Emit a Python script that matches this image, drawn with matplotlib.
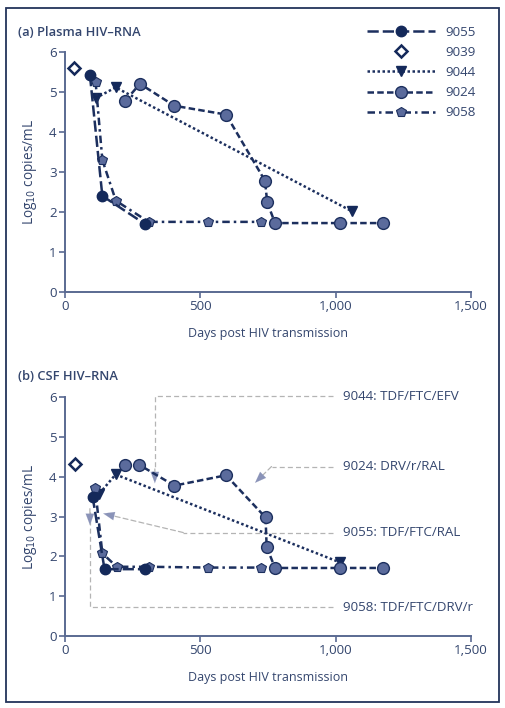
import matplotlib
matplotlib.use("Agg")
import matplotlib.pyplot as plt
from matplotlib.patches import Rectangle
from matplotlib.lines import Line2D

plt.rcParams['font.family'] = ['Open Sans', 'DejaVu Sans']

# ---------------- data ----------------
# Panel (a) Plasma HIV-RNA
a_9055_x = [92, 138, 295]
a_9055_y = [5.43, 2.40, 1.70]
a_9039_x = [33]
a_9039_y = [5.60]
a_9044_x = [113, 187, 1059]
a_9044_y = [4.85, 5.12, 2.02]
a_9024_x = [222, 277, 404, 595, 739, 747, 776, 1016, 1174]
a_9024_y = [4.78, 5.21, 4.66, 4.44, 2.78, 2.24, 1.72, 1.72, 1.72]
a_9058_x = [113, 138, 188, 309, 527, 724]
a_9058_y = [5.26, 3.30, 2.28, 1.75, 1.75, 1.75]

# Panel (b) CSF HIV-RNA
b_9055_x = [102, 146, 296]
b_9055_y = [3.50, 1.68, 1.68]
b_9039_x = [36]
b_9039_y = [4.32]
b_9044_x = [127, 187, 1016]
b_9044_y = [3.58, 4.06, 1.85]
b_9024_x = [222, 275, 404, 595, 741, 745, 776, 1016, 1174]
b_9024_y = [4.30, 4.30, 3.78, 4.04, 2.98, 2.24, 1.71, 1.71, 1.71]
b_9058_x = [111, 138, 191, 310, 527, 724]
b_9058_y = [3.73, 2.08, 1.74, 1.74, 1.72, 1.72]

# Annotations in panel (b): label, label y, elbow path (x list, y list), arrow tip
ann_labels = ["9044: TDF/FTC/EFV", "9024: DRV/r/RAL", "9055: TDF/FTC/RAL", "9058: TDF/FTC/DRV/r"]
ann_label_y = [6.03, 4.26, 2.60, 0.72]
ann_path_x = [[990, 332, 332], [990, 763], [990, 437], [990, 92, 92]]
ann_path_y = [[6.03, 6.03, 4.2], [4.26, 4.26], [2.60, 2.60], [0.72, 0.72, 3.2]]
ann_tip_x = [332, 702, 141, 92]
ann_tip_y = [3.84, 3.85, 3.08, 2.79]

series_names = ["9055", "9039", "9044", "9024", "9058"]
x_ticks = [0, 500, 1000, 1500]
x_tick_labels = ["0", "500", "1,000", "1,500"]
y_ticks = [0, 1, 2, 3, 4, 5, 6]

# ---------------- styles ----------------
NAVY = "#14295a"
LINE = "#1c2f5e"
SLATE = "#5b6b9c"
TEXT = "#34466e"
SPINE = "#5a6a92"
GRAY = "#b4b4b4"
ARROW = "#8a93b8"
FS_LAB = 9.0
FS = 9.6

styles = {
    "9055": dict(color=LINE, ls=(0, (4.5, 1.6)), marker="o", ms=7.5, mfc=NAVY, mec=NAVY, lw=1.8),
    "9039": dict(color=LINE, ls="none", marker="D", ms=6.0, mfc="white", mec=NAVY, mew=1.8),
    "9044": dict(color=LINE, ls=(0, (1.0, 1.0)), marker="v", ms=7.5, mfc=NAVY, mec=NAVY, lw=1.8),
    "9024": dict(color=LINE, ls=(0, (2.6, 1.3)), marker="o", ms=8.5, mfc=SLATE, mec=LINE, mew=1.0, lw=1.8),
    "9058": dict(color=LINE, ls=(0, (3.0, 1.6, 1.0, 1.6)), marker="p", ms=7.5, mfc=SLATE, mec=LINE, mew=0.8, lw=1.8),
}

W, H = 506, 708
fig = plt.figure(figsize=(W / 100, H / 100), dpi=100)
fig.patch.set_facecolor("white")

# outer frame
fig.add_artist(Rectangle((6 / W, 6 / H), 493 / W, 694 / H, transform=fig.transFigure,
                         fill=False, edgecolor="#23345a", lw=1.3))


def fx(px):
    return px / W


def fy(py):
    return 1 - py / H


ax_a = fig.add_axes([fx(65), fy(291.7), fx(471) - fx(65), fy(52.3) - fy(291.7)])
ax_b = fig.add_axes([fx(65), fy(636), fx(471) - fx(65), fy(397.3) - fy(636)])

data_a = {"9055": (a_9055_x, a_9055_y), "9039": (a_9039_x, a_9039_y), "9044": (a_9044_x, a_9044_y),
          "9024": (a_9024_x, a_9024_y), "9058": (a_9058_x, a_9058_y)}
data_b = {"9055": (b_9055_x, b_9055_y), "9039": (b_9039_x, b_9039_y), "9044": (b_9044_x, b_9044_y),
          "9024": (b_9024_x, b_9024_y), "9058": (b_9058_x, b_9058_y)}

draw_order = ["9044", "9024", "9058", "9055", "9039"]

for ax, data in ((ax_a, data_a), (ax_b, data_b)):
    for name in draw_order:
        xs, ys = data[name]
        ax.plot(xs, ys, clip_on=False, zorder=3, **styles[name])
    ax.set_xlim(0, 1500)
    ax.set_ylim(0, 6)
    for s in ("top", "right"):
        ax.spines[s].set_visible(False)
    for s in ("left", "bottom"):
        ax.spines[s].set_color(SPINE)
        ax.spines[s].set_linewidth(1.4)
    ax.set_xticks(x_ticks)
    ax.set_xticklabels(x_tick_labels)
    ax.set_yticks(y_ticks)
    ax.tick_params(colors=SPINE, labelcolor=TEXT, labelsize=FS, length=4, width=1.2, pad=2)
    ax.set_xlabel("Days post HIV transmission", color=TEXT, fontsize=FS_LAB, labelpad=10)
    ax.set_ylabel("Log$_{10}$ copies/mL", color=TEXT, fontsize=9.8, labelpad=7)
    ax.patch.set_alpha(0)

fig.text(fx(18), fy(32), "(a) Plasma HIV\u2013RNA", color=TEXT, fontsize=9.3, fontweight="semibold",
         va="center", ha="left")
fig.text(fx(18), fy(376), "(b) CSF HIV\u2013RNA", color=TEXT, fontsize=9.3, fontweight="semibold",
         va="center", ha="left")

# legend
handles = [Line2D([], [], **styles[n]) for n in series_names]
leg = fig.legend(handles, series_names, loc="upper left", bbox_to_anchor=(fx(367), fy(26)),
                 frameon=False, handlelength=5.1, handletextpad=0.8, labelspacing=0.53,
                 fontsize=FS, borderpad=0, borderaxespad=0)
for t in leg.get_texts():
    t.set_color(TEXT)

# annotations panel (b)
for lab, ly, px, py, tx, ty in zip(ann_labels, ann_label_y, ann_path_x, ann_path_y, ann_tip_x, ann_tip_y):
    ax_b.plot(px, py, color=GRAY, lw=0.9, ls=(0, (4, 2.5)), clip_on=False, zorder=1)
    ax_b.annotate("", xy=(tx, ty), xytext=(px[-1], py[-1]),
                  arrowprops=dict(arrowstyle="-", color=GRAY,
                                  lw=0.9, ls=(0, (4, 2.5)), shrinkA=0, shrinkB=3),
                  annotation_clip=False, zorder=1)
    ax_b.annotate("", xy=(tx, ty), xytext=(tx + (px[-1] - tx) * 0.001, ty + (py[-1] - ty) * 0.001),
                  arrowprops=dict(arrowstyle="-|>,head_length=0.8,head_width=0.3", color=ARROW,
                                  lw=0.1, shrinkA=0, shrinkB=0),
                  annotation_clip=False, zorder=2)
    ax_b.text(1027, ly, lab, color=TEXT, fontsize=FS, va="center", ha="left", clip_on=False)

fig.savefig("out.png", dpi=100)
